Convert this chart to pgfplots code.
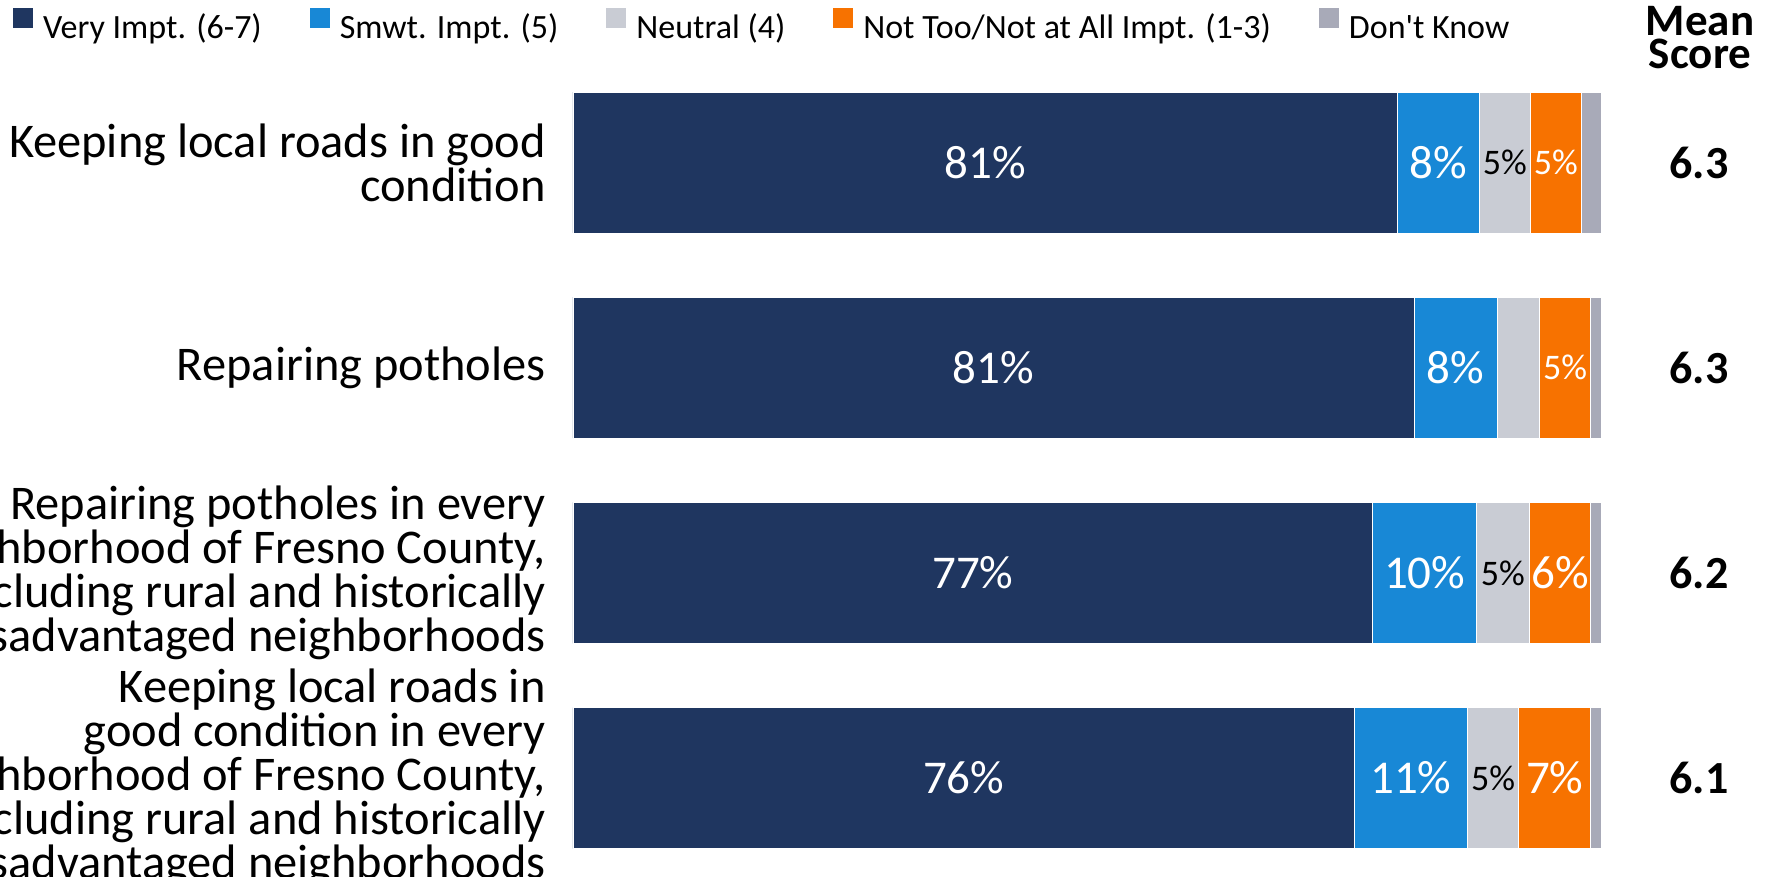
\documentclass[border=0pt]{standalone}
\usepackage{pgfplots}
\pgfplotsset{compat=1.18}
\usepackage{fontspec}
\setmainfont{Carlito}
\definecolor{vimp}{HTML}{1F3660}
\definecolor{smwt}{HTML}{1888D6}
\definecolor{neut}{HTML}{C9CCD4}
\definecolor{notimp}{HTML}{F77200}
\definecolor{dk}{HTML}{A8AAB8}
\newcommand\pbig{\fontsize{23.5}{24}\selectfont}
\newcommand\psmall{\fontsize{18}{19}\selectfont}
\begin{document}
\begin{tikzpicture}
\useasboundingbox (0,0) rectangle (884.5pt,438.5pt);
\clip (0,0) rectangle (884.5pt,438.5pt);
\begin{axis}[
  at={(286.5pt,-1.85pt)}, anchor=south west,
  scale only axis, width=514pt, height=410.4pt,
  xbar stacked, bar width=0.687,
  xmin=0, xmax=100, ymin=-0.5, ymax=3.5, y dir=reverse,
  clip=false,
  axis line style={draw=none}, tick style={draw=none}, major tick length=0pt,
  xtick=\empty, ytick={0,1,2,3},
  yticklabels={{Keeping local roads in good\\condition},
    {Repairing potholes},
    {Repairing potholes in every\\neighborhood of Fresno County,\\including rural and historically\\disadvantaged neighborhoods},
    {Keeping local roads in\\good condition in every\\neighborhood of Fresno County,\\including rural and historically\\disadvantaged neighborhoods}},
  yticklabel style={align=right, inner xsep=0pt, xshift=-13.5pt, font=\fontsize{24.2}{20.85}\selectfont},
  every axis plot/.append style={draw=white, line width=0.4pt},
  every node near coord/.append style={anchor=center},
  legend columns=5,
  legend cell align=left,
  legend image code/.code={\fill[#1, draw=none] (0pt,0pt) rectangle (10pt,10pt);},
  legend style={at={(-0.5447,1.0425)}, anchor=west, draw=none, fill=none,
    inner sep=0pt, outer sep=0pt, font=\fontsize{17}{17}\selectfont,
    nodes={inner sep=0pt},
    /tikz/every even column/.append style={column sep=24pt},
    /tikz/every odd column/.append style={column sep=5pt}},
]
\addplot[fill=vimp, point meta=explicit symbolic, nodes near coords,
  nodes near coords style={text=white, font=\pbig}]
  coordinates {(80.2,0) [81\%] (81.8,1) [81\%] (77.8,2) [77\%] (76.0,3) [76\%]};
\addplot[fill=smwt, point meta=explicit symbolic, nodes near coords,
  nodes near coords style={text=white, font=\pbig}]
  coordinates {(8.0,0) [8\%] (8.1,1) [8\%] (10.1,2) [10\%] (11.0,3) [11\%]};
\addplot[fill=neut, point meta=explicit symbolic, nodes near coords,
  nodes near coords style={text=black, font=\psmall}]
  coordinates {(4.9,0) [5\%] (4.1,1) [] (5.1,2) [5\%] (5.0,3) [5\%]};
\addplot[fill=notimp, point meta=explicit symbolic, nodes near coords,
  nodes near coords style={text=white, font=\pbig}]
  coordinates {(5.0,0) [\psmall 5\%] (5.0,1) [\psmall 5\%] (6.0,2) [6\%] (7.0,3) [7\%]};
\addplot[fill=dk] coordinates {(1.9,0) (1.0,1) (1.0,2) (1.0,3)};
\legend{Very Impt. (6-7), Smwt. Impt. (5), Neutral (4), Not Too/Not at All Impt. (1-3), Don\textquotesingle t Know}
\node[anchor=north, align=center, inner sep=0pt, font=\bfseries\fontsize{22.5}{16.5}\selectfont]
  at (axis description cs:1.0963,1.0657) {Mean\\Score};
\end{axis}
% mean scores as right-hand tick labels
\begin{axis}[
  at={(286.5pt,-1.85pt)}, anchor=south west,
  scale only axis, width=514pt, height=410.4pt,
  xmin=0, xmax=100, ymin=-0.5, ymax=3.5, y dir=reverse,
  axis line style={draw=none}, tick style={draw=none}, major tick length=0pt,
  xtick=\empty, ytick={0,1,2,3},
  yticklabels={6.3,6.3,6.2,6.1},
  yticklabel pos=right,
  yticklabel style={anchor=center, xshift=49pt, font=\bfseries\fontsize{23}{23}\selectfont},
]
\end{axis}
\end{tikzpicture}
\end{document}
